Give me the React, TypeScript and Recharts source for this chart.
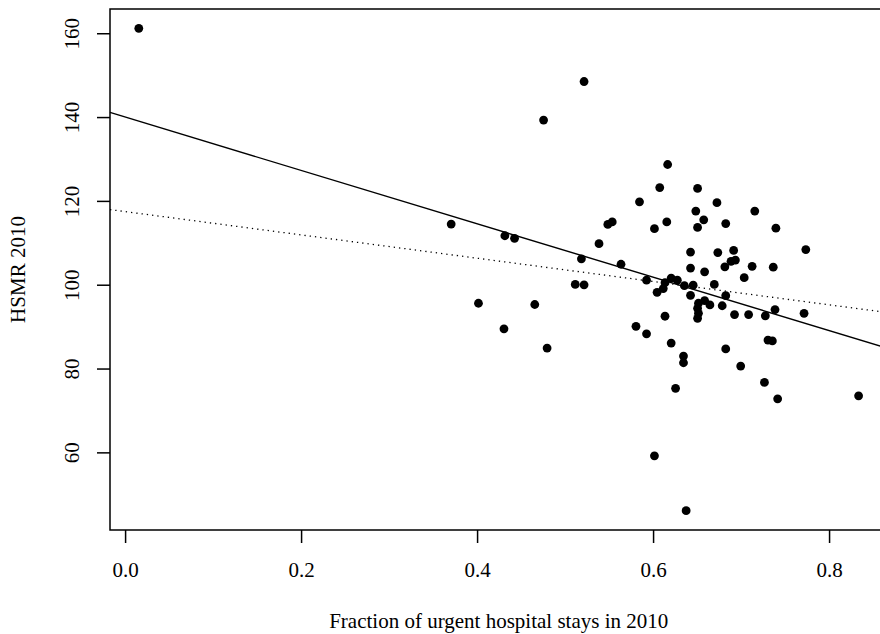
import {
  ScatterChart,
  Scatter,
  XAxis,
  YAxis,
  ReferenceArea,
  ReferenceLine,
  Label,
} from "recharts";

// fraction of urgent stays per hospital, and its HSMR
const urgentFraction = [
  0.015, 0.37, 0.401, 0.43, 0.431, 0.442, 0.465, 0.475, 0.479, 0.511, 0.521,
  0.521, 0.518, 0.538, 0.548, 0.553, 0.563, 0.58, 0.592, 0.584, 0.592, 0.601,
  0.601, 0.604, 0.607, 0.611, 0.613, 0.613, 0.616, 0.615, 0.62, 0.627, 0.62,
  0.625, 0.634, 0.634, 0.635, 0.637, 0.642, 0.642, 0.642, 0.645, 0.648, 0.65,
  0.65, 0.657, 0.658, 0.658, 0.651, 0.65, 0.651, 0.65, 0.664, 0.669, 0.672,
  0.673, 0.678, 0.681, 0.682, 0.682, 0.682, 0.688, 0.693, 0.691, 0.692, 0.699,
  0.703, 0.708, 0.712, 0.715, 0.726, 0.727, 0.73, 0.735, 0.736, 0.738, 0.739,
  0.741, 0.771, 0.773, 0.833,
];

const hsmr = [
  161.3, 114.6, 95.7, 89.6, 111.8, 111.2, 95.4, 139.4, 85.0, 100.2, 100.1,
  148.6, 106.3, 109.9, 114.5, 115.1, 105.0, 90.2, 88.4, 119.9, 101.2, 113.5,
  59.3, 98.3, 123.3, 99.2, 100.6, 92.6, 128.8, 115.1, 101.7, 101.2, 86.2, 75.4,
  83.1, 81.5, 99.9, 46.2, 107.9, 104.1, 97.6, 100.0, 117.7, 123.1, 113.8,
  115.6, 103.2, 96.3, 95.7, 94.5, 93.3, 92.1, 95.3, 100.2, 119.7, 107.8, 95.1,
  104.4, 97.5, 84.8, 114.7, 105.7, 106.0, 108.3, 93.0, 80.7, 101.8, 93.0,
  104.5, 117.7, 76.8, 92.7, 86.9, 86.7, 104.3, 94.2, 113.6, 72.9, 93.3, 108.5,
  73.6,
];

const xTicks = [0, 0.2, 0.4, 0.6, 0.8];
const yTicks = [60, 80, 100, 120, 140, 160];

// fitted lines: least squares (solid) and the flatter alternative fit (dotted)
const solidFit = { intercept: 140.1, slope: -63.7 };
const dottedFit = { intercept: 117.55, slope: -27.8 };

const points = urgentFraction.map((x, i) => ({ x, y: hsmr[i] }));

// R-style axis range: data range widened by 4% on each side
const padded = (v: number[]): [number, number] => {
  const lo = Math.min(...v);
  const hi = Math.max(...v);
  const pad = (hi - lo) * 0.04;
  return [lo - pad, hi + pad];
};
const xDomain = padded(urgentFraction);
const yDomain = padded(hsmr);

const fitSegment = (f: { intercept: number; slope: number }) =>
  xDomain.map((x) => ({ x, y: f.intercept + f.slope * x }));

const FONT = "'Liberation Serif', 'Times New Roman', serif";
const FONT_SIZE = 21;

const YTick = (props: any) => {
  const { x, y, payload } = props;
  return (
    <text
      x={x}
      y={y}
      dy="0.35em"
      transform={`rotate(-90, ${x}, ${y})`}
      textAnchor="middle"
      fontFamily={FONT}
      fontSize={FONT_SIZE}
      fill="#000"
    >
      {payload.value}
    </text>
  );
};

const YTitle = (props: any) => {
  const vb = props.viewBox || { y: 9, height: 521 };
  const cx = 18;
  const cy = vb.y + vb.height / 2;
  return (
    <text
      x={cx}
      y={cy}
      dy="0.35em"
      transform={`rotate(-90, ${cx}, ${cy})`}
      textAnchor="middle"
      fontFamily={FONT}
      fontSize={FONT_SIZE}
      fill="#000"
    >
      HSMR 2010
    </text>
  );
};

const Dot = (props: any) => (
  <circle cx={props.cx} cy={props.cy} r={4.4} fill="#000" />
);

export default function App() {
  return (
    <div
      style={{
        position: "absolute",
        left: 0,
        top: 0,
        width: 880,
        height: 634,
        overflow: "hidden",
        background: "#fff",
      }}
    >
      <ScatterChart
        width={900}
        height={634}
        margin={{ top: 9, right: 12.6, bottom: 0, left: 0 }}
      >
        <XAxis
          type="number"
          dataKey="x"
          domain={xDomain}
          ticks={xTicks}
          allowDataOverflow
          tickFormatter={(v: number) => v.toFixed(1)}
          height={104}
          tickSize={13}
          tickMargin={19}
          axisLine={false}
          tickLine={{ stroke: "#000", strokeWidth: 1.5 }}
          tick={{ fill: "#000", fontFamily: FONT, fontSize: FONT_SIZE }}
        >
          <Label
            value="Fraction of urgent hospital stays in 2010"
            position="insideBottom"
            offset={6}
            style={{ fill: "#000", fontFamily: FONT, fontSize: FONT_SIZE }}
          />
        </XAxis>
        <YAxis
          type="number"
          dataKey="y"
          domain={yDomain}
          ticks={yTicks}
          allowDataOverflow
          width={110}
          tickSize={13}
          tickMargin={25}
          axisLine={false}
          tickLine={{ stroke: "#000", strokeWidth: 1.5 }}
          tick={<YTick />}
        >
          <Label content={<YTitle />} />
        </YAxis>
        <ReferenceArea
          x1={xDomain[0]}
          x2={xDomain[1]}
          y1={yDomain[0]}
          y2={yDomain[1]}
          fill="none"
          stroke="#000"
          strokeWidth={1.5}
        />
        <ReferenceLine
          segment={fitSegment(solidFit)}
          stroke="#000"
          strokeWidth={1.4}
        />
        <ReferenceLine
          segment={fitSegment(dottedFit)}
          stroke="#000"
          strokeWidth={1.3}
          strokeDasharray="1.3 4"
        />
        <Scatter data={points} shape={<Dot />} isAnimationActive={false} />
      </ScatterChart>
    </div>
  );
}
